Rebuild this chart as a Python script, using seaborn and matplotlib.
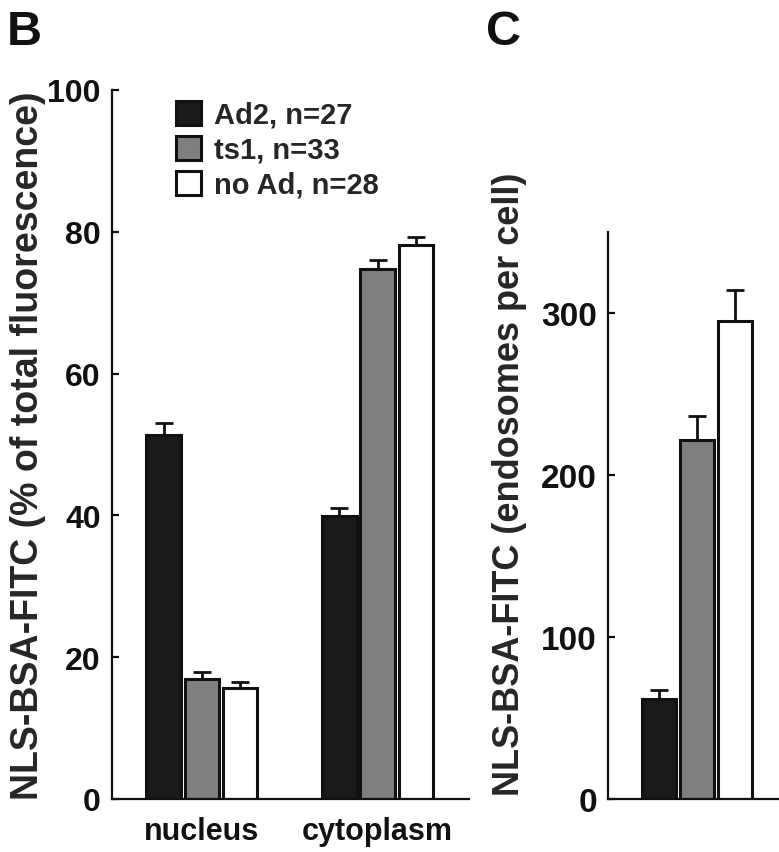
import matplotlib
matplotlib.use("Agg")
import matplotlib.pyplot as plt
import numpy as np
import pandas as pd
import seaborn as sns
from matplotlib.container import BarContainer
from matplotlib.patches import Patch

# values
groups = ["Ad2, n=27", "ts1, n=33", "no Ad, n=28"]
compartments = ["nucleus", "cytoplasm"]
nucleus_pct = [51.3, 16.9, 15.6]
nucleus_err = [1.7, 1.0, 0.9]
cytoplasm_pct = [39.9, 74.8, 78.2]
cytoplasm_err = [1.2, 1.2, 1.0]
endosomes = [61.5, 221.5, 295.0]
endosomes_err = [5.5, 15.0, 19.5]

bar_colors = ["#1a1a1a", "#7f7f7f", "#ffffff"]
edge = "#111111"

sns.set_style("white")
plt.rcParams["font.family"] = ["Liberation Sans", "DejaVu Sans"]
plt.rcParams["font.weight"] = "bold"
plt.rcParams["axes.labelweight"] = "bold"


def style_axis(ax, tick_size):
    sns.despine(ax=ax)
    for side in ["left", "bottom"]:
        ax.spines[side].set_linewidth(1.6)
        ax.spines[side].set_color(edge)
    ax.tick_params(axis="y", direction="in", length=5, width=1.6,
                   labelsize=tick_size, pad=8, colors=edge, left=True)
    ax.tick_params(axis="x", length=0, labelsize=22, pad=12, colors=edge)


def add_errorbars(ax, errs):
    # one bar container per hue level, bars in category order
    bars = [c for c in ax.containers if isinstance(c, BarContainer)]
    for i, cont in enumerate(bars):
        for j, bar in enumerate(cont.patches):
            x = bar.get_x() + bar.get_width() / 2
            y = bar.get_height()
            ax.errorbar(x, y, yerr=[[0], [errs[j][i]]], fmt="none",
                        ecolor=edge, elinewidth=2, capsize=6.5, capthick=2,
                        zorder=1)


fig = plt.figure(figsize=(7.79, 8.53), dpi=100)

# panel B
df_b = pd.DataFrame({
    "compartment": np.repeat(compartments, len(groups)),
    "group": groups * len(compartments),
    "pct": nucleus_pct + cytoplasm_pct,
})
ax1 = fig.add_axes([112 / 779, 1 - 800 / 853, 357 / 779, 709 / 853])
sns.barplot(data=df_b, x="compartment", y="pct", hue="group",
            hue_order=groups, palette=bar_colors, errorbar=None,
            width=0.65, gap=0.1, edgecolor=edge, linewidth=2.2,
            legend=False, ax=ax1, zorder=2)
add_errorbars(ax1, [nucleus_err, cytoplasm_err])
ax1.set_xlim(-0.51, 1.52)
ax1.set_ylim(0, 100)
ax1.set_yticks([0, 20, 40, 60, 80, 100])
ax1.set_xlabel("")
ax1.set_ylabel("NLS-BSA-FITC (% of total fluorescence)", fontsize=27)
ax1.yaxis.set_label_coords(-0.185, 0.5)
style_axis(ax1, 23)

handles = [Patch(facecolor=c, edgecolor=edge, linewidth=2.2) for c in bar_colors]
ax1.legend(handles=handles, labels=groups, loc="upper left",
           bbox_to_anchor=(176 / 779, 1 - 102 / 853),
           bbox_transform=fig.transFigure, frameon=False, fontsize=21,
           handlelength=0.86, handleheight=0.86, handletextpad=0.45,
           labelspacing=0.24, borderpad=0, borderaxespad=0)

# panel C
df_c = pd.DataFrame({"x": [""] * len(groups), "group": groups,
                     "count": endosomes})
ax2 = fig.add_axes([608 / 779, 1 - 800 / 853, 0.25, 567 / 853])
sns.barplot(data=df_c, x="x", y="count", hue="group", hue_order=groups,
            palette=bar_colors, errorbar=None, width=0.65, gap=0.1,
            edgecolor=edge, linewidth=2.2, legend=False, ax=ax2, zorder=2)
add_errorbars(ax2, [endosomes_err])
ax2.set_xlim(-0.506, 0.6)
ax2.set_ylim(0, 350)
ax2.set_yticks([0, 100, 200, 300])
ax2.set_xticks([])
ax2.set_xlabel("")
ax2.set_ylabel("NLS-BSA-FITC (endosomes per cell)", fontsize=26)
ax2.yaxis.set_label_coords(-0.416, 0.557)
style_axis(ax2, 24)

fig.text(7 / 779, 1 - 45 / 853, "B", fontsize=35, fontweight="bold",
         va="baseline", color=edge)
fig.text(486 / 779, 1 - 45 / 853, "C", fontsize=35, fontweight="bold",
         va="baseline", color=edge)

fig.savefig("out.png", dpi=100)
